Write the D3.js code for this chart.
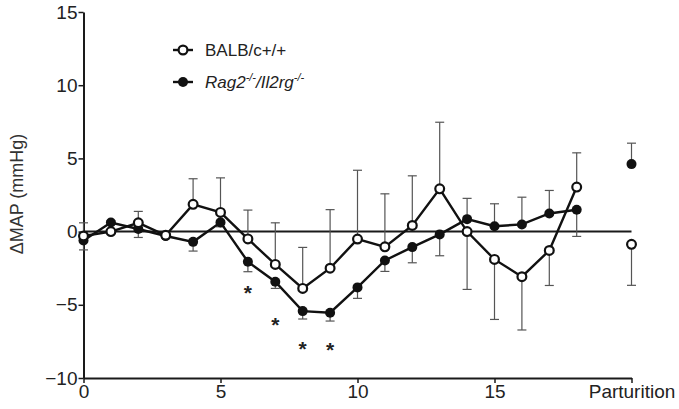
<!DOCTYPE html>
<html>
<head>
<meta charset="utf-8">
<script src="https://cdn.jsdelivr.net/npm/d3@7/dist/d3.min.js"></script>
<style>
  body { margin: 0; background: #fff; }
  svg { display: block; font-family: "Liberation Sans", Arial, sans-serif; }
</style>
</head>
<body>
<svg id="chart" width="679" height="409"></svg>
<script>
// ---- data ----
const days = [0, 1, 2, 3, 4, 5, 6, 7, 8, 9, 10, 11, 12, 13, 14, 15, 16, 17, 18];
const balbVals = [-0.3, 0.0, 0.6, -0.25, 1.86, 1.31, -0.5, -2.24, -3.88, -2.5, -0.51, -1.04, 0.42, 2.92, 0.0, -1.9, -3.08, -1.29, 3.04];
const balbErr  = [0.9, 0.1, 0.78, 0.1, 1.75, 2.36, 1.97, 2.84, 2.8, 4.0, 4.7, 3.62, 3.39, 4.55, 3.95, 4.1, 3.64, 2.39, 2.34];
const ragVals  = [-0.6, 0.62, 0.18, -0.3, -0.7, 0.63, -2.06, -3.42, -5.43, -5.54, -3.81, -1.97, -1.06, -0.19, 0.85, 0.37, 0.49, 1.24, 1.49];
const ragErr   = [0.65, 0.1, 0.58, 0.1, 0.63, 0.3, 0.68, 0.46, 0.54, 0.57, 0.75, 0.75, 1.07, 1.46, 1.42, 1.53, 1.86, 1.57, 1.82];
const partX = 20;
const balbPart = -0.87, balbPartErr = 2.8;
const ragPart = 4.61, ragPartErr = 1.43;
const sigDays = [6, 7, 8, 9];
const sigY = [-3.9, -6.1, -7.75, -7.8];
const xTickVals = [0, 5, 10, 15, 20];
const xTickLabels = ["0", "5", "10", "15", "Parturition"];
const yTickVals = [-10, -5, 0, 5, 10, 15];
const yLabel = "\u0394MAP (mmHg)";
const legendNames = ["BALB/c+/+", "Rag2"];

// ---- scales ----
const svg = d3.select("#chart");
const x = d3.scaleLinear().domain([0, 20]).range([83.5, 631.5]);
const y = d3.scaleLinear().domain([-10, 15]).range([378, 12]);

// axes
const yAxis = svg.append("g").attr("transform", `translate(${x(0)},0)`)
  .call(d3.axisLeft(y).tickValues(yTickVals).tickSize(5).tickSizeOuter(0).tickPadding(1).tickFormat(d3.format("d")));
const xAxis = svg.append("g").attr("transform", `translate(0,${y(-10)})`)
  .call(d3.axisBottom(x).tickValues(xTickVals).tickSize(5).tickSizeOuter(0).tickPadding(2)
        .tickFormat((d, i) => xTickLabels[i]));
[yAxis, xAxis].forEach(g => {
  g.select(".domain").attr("stroke", "#1a1a1a").attr("stroke-width", 2);
  g.selectAll(".tick line").attr("stroke", "#1a1a1a").attr("stroke-width", 1.5);
  g.selectAll(".tick text").attr("fill", "#222").style("font-size", "19px")
    .style("font-family", "'Liberation Sans', Arial, sans-serif");
});

// y label
svg.append("text")
  .attr("transform", `translate(23,194) rotate(-90)`)
  .attr("text-anchor", "middle")
  .style("font-size", "18px").attr("fill", "#333")
  .text(yLabel);

// zero line
svg.append("line")
  .attr("x1", x(0)).attr("x2", x(20))
  .attr("y1", y(0)).attr("y2", y(0))
  .attr("stroke", "#1a1a1a").attr("stroke-width", 2);

// error bars (one-sided, away from the other series)
function errBars(vals, errs, other, xs) {
  const g = svg.append("g").attr("stroke", "#555").attr("stroke-width", 1.2);
  vals.forEach((v, i) => {
    const dir = v >= other[i] ? 1 : -1;
    const end = v + dir * errs[i];
    const cx = x(xs[i]);
    g.append("line").attr("x1", cx).attr("x2", cx).attr("y1", y(v)).attr("y2", y(end));
    g.append("line").attr("x1", cx - 4.5).attr("x2", cx + 4.5).attr("y1", y(end)).attr("y2", y(end));
  });
}
errBars(balbVals.concat([balbPart]), balbErr.concat([balbPartErr]), ragVals.concat([ragPart]), days.concat([partX]));
errBars(ragVals.concat([ragPart]), ragErr.concat([ragPartErr]), balbVals.concat([balbPart]), days.concat([partX]));

// lines
const line = d3.line().x((d, i) => x(days[i])).y(d => y(d));
svg.append("path").datum(ragVals).attr("d", line)
  .attr("fill", "none").attr("stroke", "#111").attr("stroke-width", 2.4);
svg.append("path").datum(balbVals).attr("d", line)
  .attr("fill", "none").attr("stroke", "#111").attr("stroke-width", 2.4);

// points
svg.append("g").selectAll("circle").data(ragVals.concat([ragPart])).join("circle")
  .attr("cx", (d, i) => x(i < days.length ? days[i] : partX))
  .attr("cy", d => y(d)).attr("r", 5)
  .attr("fill", "#111");
svg.append("g").selectAll("circle").data(balbVals.concat([balbPart])).join("circle")
  .attr("cx", (d, i) => x(i < days.length ? days[i] : partX))
  .attr("cy", d => y(d)).attr("r", 4.4)
  .attr("fill", "#fff").attr("stroke", "#111").attr("stroke-width", 2.2);

// significance asterisks
svg.append("g").selectAll("text").data(sigDays).join("text")
  .attr("x", d => x(d)).attr("y", (d, i) => y(sigY[i]) + 11)
  .attr("text-anchor", "middle")
  .style("font-size", "21px").style("font-weight", "bold").attr("fill", "#222")
  .text("*");

// legend
const lg = svg.append("g");
const rows = [50, 82];
lg.append("line").attr("x1", 173).attr("x2", 193).attr("y1", rows[0]).attr("y2", rows[0])
  .attr("stroke", "#111").attr("stroke-width", 2.4);
lg.append("circle").attr("cx", 183).attr("cy", rows[0]).attr("r", 4.4)
  .attr("fill", "#fff").attr("stroke", "#111").attr("stroke-width", 2.2);
lg.append("line").attr("x1", 173).attr("x2", 193).attr("y1", rows[1]).attr("y2", rows[1])
  .attr("stroke", "#111").attr("stroke-width", 2.4);
lg.append("circle").attr("cx", 183).attr("cy", rows[1]).attr("r", 5).attr("fill", "#111");

lg.append("text").attr("x", 205).attr("y", rows[0] + 6)
  .style("font-size", "17px").attr("fill", "#222").text(legendNames[0]);
const t2 = lg.append("text").attr("x", 205).attr("y", rows[1] + 6)
  .style("font-size", "17px").style("font-style", "italic").attr("fill", "#222");
t2.append("tspan").text(legendNames[1]);
t2.append("tspan").attr("dy", -7).style("font-size", "11px").text("-/-");
t2.append("tspan").attr("dy", 7).text("/Il2rg");
t2.append("tspan").attr("dy", -7).style("font-size", "11px").text("-/-");
</script>
</body>
</html>
